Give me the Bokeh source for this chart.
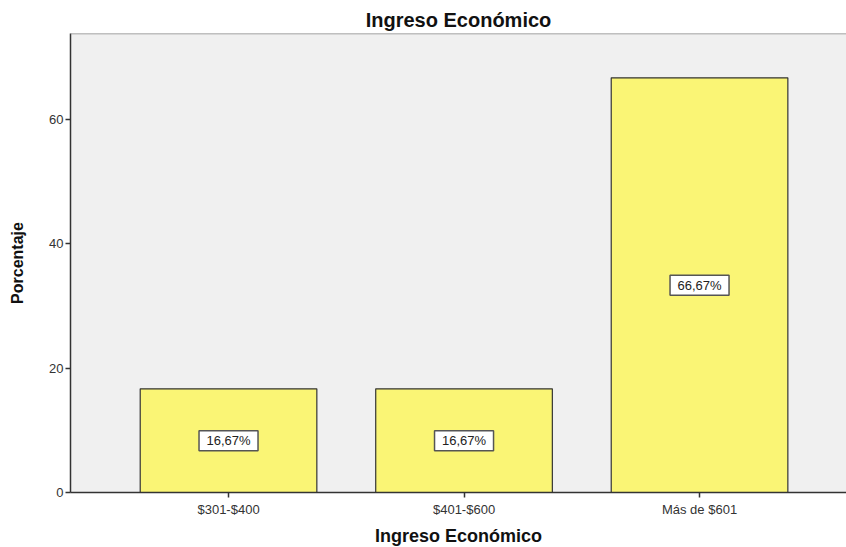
from bokeh.plotting import figure
from bokeh.models import ColumnDataSource, Span, Range1d, FixedTicker
from bokeh.core.properties import value
from bokeh.embed import file_html
from bokeh.resources import INLINE

categories = ["$301-$400", "$401-$600", "Más de $601"]
percentages = [16.67, 16.67, 66.67]
labels = ["16,67%", "16,67%", "66,67%"]
y_ticks = [0, 20, 40, 60]

idx = list(range(len(categories)))
src = ColumnDataSource(dict(
    x=idx, top=percentages, mid=[v / 2 for v in percentages], lab=labels))

FONT = "Liberation Sans"

p = figure(frame_width=776, frame_height=459, output_backend="svg", toolbar_location=None,
           x_range=Range1d(-0.671, 2.624), y_range=Range1d(0, 73.8),
           min_border_left=70, min_border_right=0, min_border_top=33, min_border_bottom=55,
           title="Ingreso Económico")

p.background_fill_color = "#F0F0F0"
p.border_fill_color = "white"
p.outline_line_color = None
p.grid.grid_line_color = None

p.title.align = "center"
p.title.text_font = FONT
p.title.text_font_size = "20px"
p.title.text_font_style = "bold"
p.title.text_color = "#111111"
p.title.offset = 0
p.title.standoff = 6

p.vbar(x="x", top="top", width=0.75, source=src, fill_color="#FAF575",
       line_color="#333333", line_width=1.2)

p.rect(x="x", y="mid", width=59, height=20, width_units="screen", height_units="screen",
       source=src, fill_color="white", line_color="#555555", line_width=1.5)
p.text(x="x", y="mid", text="lab", source=src, text_align="center",
       text_baseline="middle", text_font=value(FONT), text_font_size="13px",
       text_color="#222222")

p.add_layout(Span(location=73.8, dimension="width", line_color="#888888", line_width=1.5))

p.xaxis.ticker = FixedTicker(ticks=idx)
p.xaxis.major_label_overrides = {i: c for i, c in zip(idx, categories)}
p.yaxis.ticker = FixedTicker(ticks=y_ticks)

for ax in (p.xaxis, p.yaxis):
    ax.axis_line_color = "#333333"
    ax.axis_line_width = 1.5
    ax.major_tick_line_color = "#333333"
    ax.major_tick_line_width = 1.5
    ax.major_tick_out = 5
    ax.major_tick_in = 0
    ax.minor_tick_line_color = None
    ax.major_label_text_font = FONT
    ax.major_label_text_font_size = "13px"
    ax.major_label_text_color = "#333333"
    ax.axis_label_text_font = FONT
    ax.axis_label_text_font_style = "bold"
    ax.axis_label_text_color = "#111111"

p.xaxis.axis_label = "Ingreso Económico"
p.yaxis.axis_label = "Porcentaje"
p.xaxis.axis_label_text_font_size = "18px"
p.yaxis.axis_label_text_font_size = "16px"
p.xaxis.major_label_standoff = 4
p.xaxis.axis_label_standoff = 6
p.yaxis.major_label_standoff = 2
p.yaxis.axis_label_standoff = 20

open("out.html", "w").write(file_html(p, INLINE))
